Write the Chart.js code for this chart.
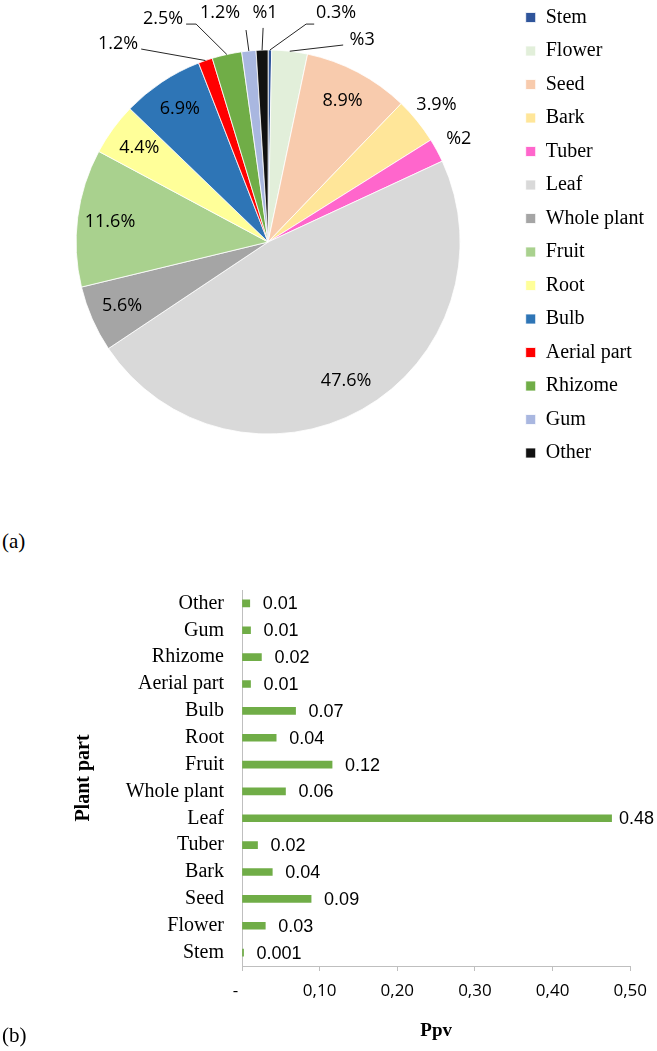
<!DOCTYPE html>
<html>
<head>
<meta charset="utf-8">
<script src="https://cdn.jsdelivr.net/npm/chart.js@4.4.1/dist/chart.umd.min.js"></script>
<style>
  body { margin: 0; background: #fff; }
  #wrap { position: relative; width: 657px; height: 1051px; overflow: hidden; }
  #pieChart { position: absolute; left: 0; top: -6px; }
  #barChart { position: absolute; left: 0; top: 560px; }
  .tag { position: absolute; left: 2px; font: 21px "Liberation Serif", serif; color: #000; }
</style>
</head>
<body>
<div id="wrap">
  <canvas id="pieChart" width="657" height="496"></canvas>
  <canvas id="barChart" width="657" height="491"></canvas>
  <div class="tag" style="top:529px">(a)</div>
  <div class="tag" style="top:1023px">(b)</div>
</div>
<script>
// plant parts, in the order of the legend
var parts = ['Stem', 'Flower', 'Seed', 'Bark', 'Tuber', 'Leaf', 'Whole plant', 'Fruit',
             'Root', 'Bulb', 'Aerial part', 'Rhizome', 'Gum', 'Other'];
// (a) share of each part, %
var pieShare = [0.3, 3, 8.9, 3.9, 2, 47.6, 5.6, 11.6, 4.4, 6.9, 1.2, 2.5, 1.2, 1];
var pieLabels = ['0.3%', '%3', '8.9%', '3.9%', '%2', '47.6%', '5.6%', '11.6%',
                 '4.4%', '6.9%', '1.2%', '2.5%', '1.2%', '%1'];
// (b) Ppv per part
var ppv = [0.002, 0.03, 0.089, 0.039, 0.02, 0.476, 0.056, 0.116, 0.044, 0.069, 0.011, 0.025, 0.011, 0.01];
var ppvLabels = ['0.001', '0.03', '0.09', '0.04', '0.02', '0.48', '0.06', '0.12',
                 '0.04', '0.07', '0.01', '0.02', '0.01', '0.01'];

var partColors = ['#2F559B', '#E2EFDA', '#F8CBAD', '#FFE699', '#FF66CC', '#D9D9D9', '#A5A5A5',
                  '#A9D18E', '#FFFF99', '#2E75B6', '#FF0000', '#70AD47', '#A9B7E0', '#111111'];

// where each pie label goes: inside, just outside, or with a leader line
var labelPlace = ['lead', 'lead', 'in', 'out', 'out', 'in', 'in', 'in', 'in', 'in', 'lead', 'lead', 'lead', 'lead'];
// leader line bends and text spot, relative to the centre in radius units
var leaders = {
    0:  { pts: [[0.198, -1.135], [0.240, -1.135]], text: [0.354, -1.195] },
    1:  { pts: [[0.391, -1.026]], text: [0.490, -1.055] },
    10: { pts: [[-0.661, -1.005]], text: [-0.781, -1.034] },
    11: { pts: [[-0.375, -1.135], [-0.427, -1.135]], text: [-0.547, -1.164] },
    12: { pts: [[-0.115, -1.104]], text: [-0.250, -1.195] },
    13: { pts: [[-0.026, -1.115]], text: [-0.016, -1.195] }
};

var pieLabelPlugin = {
    id: 'pieLabels',
    afterDatasetsDraw: function (chart) {
        var ctx = chart.ctx;
        var meta = chart.getDatasetMeta(0);
        ctx.save();
        ctx.font = '18px "Open Sans", sans-serif';
        ctx.fillStyle = '#000';
        ctx.textAlign = 'center';
        ctx.textBaseline = 'middle';
        ctx.strokeStyle = '#262626';
        ctx.lineWidth = 1;
        meta.data.forEach(function (arc, i) {
            var cx = arc.x, cy = arc.y, r = arc.outerRadius;
            var mid = (arc.startAngle + arc.endAngle) / 2;
            var place = labelPlace[i];
            if (place === 'in' || place === 'out') {
                var f = place === 'in' ? 0.83 : 1.13;
                ctx.fillText(pieLabels[i], cx + Math.cos(mid) * r * f, cy + Math.sin(mid) * r * f);
            } else {
                var l = leaders[i];
                ctx.beginPath();
                ctx.moveTo(cx + Math.cos(mid) * r, cy + Math.sin(mid) * r);
                l.pts.forEach(function (p) { ctx.lineTo(cx + p[0] * r, cy + p[1] * r); });
                ctx.stroke();
                ctx.fillText(pieLabels[i], cx + l.text[0] * r, cy + l.text[1] * r);
            }
        });
        ctx.restore();
    }
};

new Chart(document.getElementById('pieChart'), {
    type: 'pie',
    data: {
        labels: parts,
        datasets: [{
            data: pieShare,
            backgroundColor: partColors,
            borderColor: '#fff',
            borderWidth: 0.8,
            radius: 192
        }]
    },
    options: {
        responsive: false,
        animation: false,
        layout: { padding: { left: 24, right: 3 } },
        plugins: {
            legend: {
                position: 'right',
                align: 'start',
                labels: {
                    boxWidth: 10,
                    boxHeight: 10,
                    padding: 13.5,
                    color: '#000',
                    font: { family: 'Liberation Serif', size: 20 }
                }
            },
            tooltip: { enabled: false }
        }
    },
    plugins: [pieLabelPlugin]
});

var barValuePlugin = {
    id: 'barValues',
    afterDatasetsDraw: function (chart) {
        var ctx = chart.ctx;
        var meta = chart.getDatasetMeta(0);
        ctx.save();
        ctx.font = '18px "Liberation Sans", Arial, sans-serif';
        ctx.fillStyle = '#000';
        ctx.textAlign = 'left';
        ctx.textBaseline = 'middle';
        meta.data.forEach(function (bar, i) {
            var w = ctx.measureText(ppvLabels[i]).width;
            var x = Math.min(bar.x + 13, chart.width - w - 3);
            ctx.fillText(ppvLabels[i], x, bar.y + 1);
        });
        ctx.restore();
    }
};

new Chart(document.getElementById('barChart'), {
    type: 'bar',
    data: {
        labels: parts,
        datasets: [{
            data: ppv,
            backgroundColor: '#70AD47',
            barThickness: 7
        }]
    },
    options: {
        indexAxis: 'y',
        responsive: false,
        animation: false,
        layout: { padding: { top: 19, right: 25 } },
        plugins: {
            legend: { display: false },
            tooltip: { enabled: false }
        },
        scales: {
            x: {
                min: 0,
                max: 0.5,
                ticks: {
                    stepSize: 0.1,
                    color: '#000',
                    padding: 10,
                    font: { family: 'Open Sans', size: 17 },
                    callback: function (v) { return v === 0 ? '-   ' : v.toFixed(2).replace('.', ','); }
                },
                grid: { drawOnChartArea: false, drawTicks: true, tickLength: 5, color: '#BFBFBF' },
                border: { color: '#BFBFBF' },
                title: {
                    display: true,
                    text: 'Ppv',
                    color: '#000',
                    font: { family: 'Liberation Serif', size: 19, weight: 'bold' },
                    padding: { top: 4, bottom: 9 }
                },
                afterFit: function (s) { s.height = 85; }
            },
            y: {
                reverse: true,
                ticks: {
                    autoSkip: false,
                    color: '#000',
                    padding: 18,
                    font: { family: 'Liberation Serif', size: 20 }
                },
                grid: { display: true, drawOnChartArea: false, drawTicks: false },
                border: { color: '#BFBFBF' },
                title: {
                    display: true,
                    text: 'Plant part',
                    color: '#000',
                    font: { family: 'Liberation Serif', size: 20, weight: 'bold' },
                    padding: { top: 72, bottom: 0 }
                },
                afterFit: function (s) { s.width = 242; }
            }
        }
    },
    plugins: [barValuePlugin]
});
</script>
</body>
</html>
